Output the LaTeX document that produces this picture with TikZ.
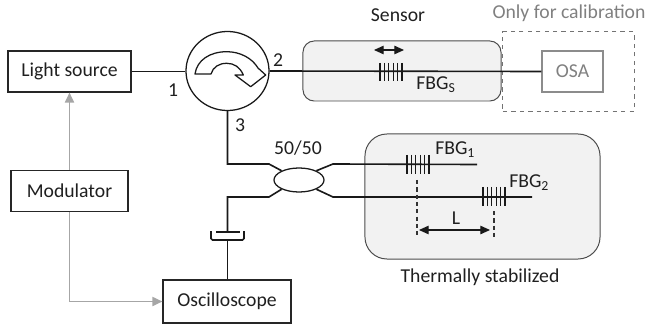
\documentclass[tikz,border=0pt]{standalone}
\usepackage{fontspec}
\setmainfont{Carlito}
\usetikzlibrary{arrows.meta,positioning,shapes.geometric}

\begin{document}
\begin{tikzpicture}[
  x=0.025cm, y=-0.025cm,
  every node/.style={font=\fontsize{14}{16}\selectfont, text=black!88},
  devbox/.style={draw=black!85, line width=0.85pt, inner sep=0pt, align=center},
  zone/.style={draw=black!70, fill=black!5, line width=0.7pt, rounded corners=0.28cm, inner sep=0pt},
  fiber/.style={draw=black!90, line width=1.15pt},
  grating/.style={draw=black!90, line width=0.9pt},
  drive/.style={draw=black!35, line width=0.95pt, -{Triangle[length=2.5mm,width=2.3mm]}},
  span/.style={draw=black!90, line width=0.85pt, {Triangle[length=2.4mm,width=2.1mm]}-{Triangle[length=2.4mm,width=2.1mm]}},
  marker/.style={draw=black!80, line width=0.8pt, dashed, dash pattern=on 3pt off 2.2pt}
]
\useasboundingbox (0,0) rectangle (646,328);

% shaded regions first
\node[zone, minimum width=4.95cm, minimum height=1.5cm] (sensor) at (402,71) {};
\node[zone, rounded corners=0.55cm, minimum width=5.875cm, minimum height=3.125cm] (stable) at (482.5,196.5) {};
\node[draw=black!55, dashed, line width=0.7pt, minimum width=3.275cm, minimum height=1.975cm, inner sep=0pt] (calib) at (568.5,71.5) {};

% instruments
\node[devbox, minimum width=3.075cm, minimum height=1.025cm] (source) at (69.5,71.5) {Light source};
\node[devbox, minimum width=2.925cm, minimum height=1.025cm, below=1.925cm of source] (modulator) {Modulator};
\node[devbox, minimum width=3.2cm, minimum height=1.075cm] (scope) at (227,301.5) {Oscilloscope};
\node[devbox, draw=black!45, text=black!50, minimum width=1.525cm, minimum height=1.025cm] (osa) at (572.5,71.5) {OSA};

% circulator and coupler
\node[draw=black!90, line width=0.9pt, ellipse, inner sep=0pt, minimum width=2.075cm, minimum height=1.975cm] (circ) at (227.5,71) {};
\draw[draw=black!90, line width=0.9pt, line join=round] (195,74) .. controls (197,60) and (210,51.7) .. (226.7,51.7)
  .. controls (240,51.7) and (252,58) .. (258,68) -- (265.7,75) -- (250.7,86.7) -- (235,75) -- (243.3,75)
  .. controls (240,67) and (234,63.3) .. (226.7,63.3) .. controls (219,63.3) and (213,67) .. (211,74) -- cycle;
\node[draw=black!90, line width=0.9pt, ellipse, inner sep=0pt, minimum width=1.25cm, minimum height=0.6cm] (cpl) at (299,180) {};

% fibre bends and connector
\coordinate (cplLT) at (269,164);
\coordinate (cplLB) at (269,197);
\coordinate (cplRT) at (333,164);
\coordinate (cplRB) at (333,197);
\coordinate (endOne) at (477,164.5);
\coordinate (endTwo) at (532,197);
\coordinate (capTop) at (227.5,232);
\coordinate (capBot) at (227.5,240);

\draw[fiber] (source.east) -- (circ.west |- source.east);
\draw[fiber] (circ.east) -- (osa.west);
\draw[fiber] (circ.south) |- (cplLT) -- (cpl.152);
\draw[fiber] (cpl.208) -- (cplLB) -| (capTop);
\draw[fiber] (capBot) -- (scope.north -| capBot);
\draw[fiber] (cpl.28) -- (cplRT) -- (endOne);
\draw[fiber] (cpl.-28) -- (cplRB) -- (endTwo);
\draw[fiber] (216,232) -- (240,232);
\draw[fiber, rounded corners=1pt] (211,231) -- (211,240) -- (244,240) -- (244,231);

% gratings
\foreach \gx in {380,384.4,388.8,393.2,397.6,402} \draw[grating] (\gx,63) -- (\gx,81);
\foreach \gx in {407,411.4,415.8,420.2,424.6,429} \draw[grating] (\gx,155) -- (\gx,174);
\foreach \gx in {483,487.4,491.8,496.2,500.6,505} \draw[grating] (\gx,187) -- (\gx,206);

% markers
\draw[marker] (417,180) -- (417,238);
\draw[marker] (494,211) -- (494,240);
\draw[span] (374,50) -- (404,50);
\draw[span] (419,230) -- (490,230);

% modulator outputs
\draw[drive] (modulator.north) -- (modulator.north |- source.south);
\draw[drive] (modulator.south) |- (scope.west);

% labels
\node (lblOne) at (173,90) {1};
\node (lblTwo) at (278,60) {2};
\node (lblThree) at (240,125) {3};
\node (lblSplit) at (298,148) {50/50};
\node (lblSensor) at (398,15) {Sensor};
\node[text=black!50] (lblCalib) at (569,13) {Only for calibration};
\node (lblFbgS) at (436,85) {FBG\textsubscript{S}};
\node[anchor=west, inner sep=0pt] (lblFbgOne) at (435,150) {FBG\textsubscript{1}};
\node[anchor=west, inner sep=0pt] (lblFbgTwo) at (509,183) {FBG\textsubscript{2}};
\node (lblSpan) at (456,218) {L};
\node (lblStable) at (480,277) {Thermally stabilized};
\end{tikzpicture}
\end{document}
